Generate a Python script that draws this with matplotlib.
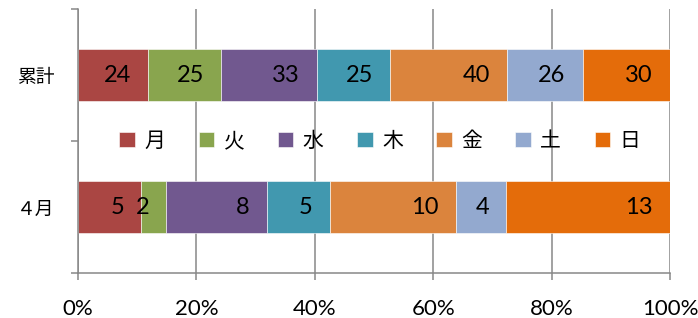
import matplotlib.pyplot as plt
import numpy as np
from matplotlib.ticker import FixedLocator, PercentFormatter

# data
categories = ['累計', '４月']
days = ['月', '火', '水', '木', '金', '土', '日']
counts = {
    '累計': [24, 25, 33, 25, 40, 26, 30],
    '４月': [5, 2, 8, 5, 10, 4, 13],
}
colors = ['#AA4643', '#89A54E', '#71588F', '#4198AF', '#DB843D', '#93A9CF', '#E46C0A']
x_ticks = [0, 20, 40, 60, 80, 100]

num_font = ['Lato', 'Noto Sans CJK JP', 'DejaVu Sans']
cjk_font = ['Noto Sans CJK JP', 'DejaVu Sans']
grid_col = '#878787'

fig = plt.figure(figsize=(6.98, 3.18), dpi=100)
ax = fig.add_axes([78 / 698, (318 - 273) / 318, (670 - 78) / 698, (273 - 9) / 318])

y_pos = np.array([0.5, 1.5])
values = np.array([counts[c] for c in categories], dtype=float)
pct = values / values.sum(axis=1, keepdims=True) * 100
left = np.zeros(len(categories))

for j, day in enumerate(days):
    ax.barh(y_pos, pct[:, j], left=left, height=0.4, color=colors[j],
            edgecolor='white', linewidth=0.4, label=day, zorder=2)
    for i in range(len(categories)):
        end = left[i] + pct[i, j]
        ax.annotate(str(int(values[i, j])), xy=(end, y_pos[i]),
                    xytext=(-17, 0), textcoords='offset pixels',
                    ha='right', va='center', fontsize=17, family=num_font,
                    color='black', zorder=3)
    left += pct[:, j]

ax.set_xlim(0, 100)
ax.set_ylim(2, 0)

ax.xaxis.set_major_locator(FixedLocator(x_ticks))
ax.xaxis.set_major_formatter(PercentFormatter(decimals=0))
ax.grid(axis='x', color=grid_col, linewidth=1.1, zorder=0)
ax.set_axisbelow(True)

ax.set_yticks([0, 1, 2])
ax.set_yticklabels([])
ax.set_yticks(y_pos, minor=True)
ax.set_yticklabels(categories, minor=True, family=cjk_font, fontsize=13.5)
ax.tick_params(axis='y', which='minor', length=0, pad=17)
ax.tick_params(axis='y', which='major', length=5, width=1.1, color=grid_col)
ax.tick_params(axis='x', length=5, width=1.1, color=grid_col, pad=14)
for lab in ax.get_xticklabels():
    lab.set_family(num_font)
    lab.set_fontsize(16)

for s in ['top', 'right']:
    ax.spines[s].set_visible(False)
for s in ['left', 'bottom']:
    ax.spines[s].set_color(grid_col)
    ax.spines[s].set_linewidth(1.1)

ax.legend(loc='center', bbox_to_anchor=(0.51, 0.5), ncol=7, frameon=False,
          prop={'family': cjk_font, 'size': 15}, handlelength=0.75,
          handleheight=0.75, handletextpad=0.45, columnspacing=1.6)

plt.savefig('out.png', dpi=100)
plt.close()
